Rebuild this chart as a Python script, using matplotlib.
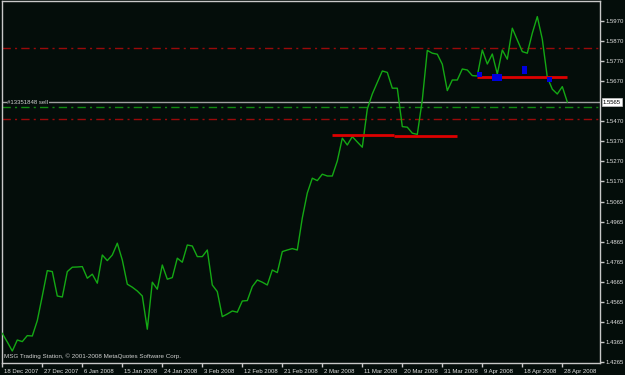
import matplotlib
matplotlib.use("Agg")
import matplotlib.pyplot as plt
import matplotlib.transforms as mtransforms

# ---- data ----
bars = list(range(114))
close = [1.4408, 1.4365, 1.4320, 1.4375, 1.4367, 1.4397, 1.4395, 1.4472, 1.4595, 1.4722,
         1.4717, 1.4595, 1.4590, 1.4717, 1.4739, 1.4740, 1.4742, 1.4684, 1.4704, 1.4659,
         1.4800, 1.4772, 1.4800, 1.4859, 1.4775, 1.4654, 1.4639, 1.4620, 1.4595, 1.4429,
         1.4664, 1.4629, 1.4750, 1.4679, 1.4687, 1.4784, 1.4764, 1.4850, 1.4845, 1.4792,
         1.4792, 1.4825, 1.4650, 1.4617, 1.4492, 1.4505, 1.4520, 1.4514, 1.4570, 1.4572,
         1.4642, 1.4675, 1.4664, 1.4650, 1.4725, 1.4712, 1.4817, 1.4825, 1.4832, 1.4825,
         1.4985, 1.5110, 1.5184, 1.5172, 1.5204, 1.5195, 1.5195, 1.5270, 1.5384, 1.5350,
         1.5392, 1.5365, 1.5339, 1.5530, 1.5605, 1.5663, 1.5720, 1.5713, 1.5634, 1.5634,
         1.5442, 1.5439, 1.5409, 1.5403, 1.5575, 1.5823, 1.5809, 1.5804, 1.5754, 1.5622,
         1.5675, 1.5675, 1.5730, 1.5725, 1.5697, 1.5695, 1.5825, 1.5755, 1.5805, 1.5705,
         1.5825, 1.5779, 1.5934, 1.5875, 1.5817, 1.5809, 1.5909, 1.5992, 1.5879, 1.5689,
         1.5629, 1.5605, 1.5642, 1.5565]

x_tick_bars = [0, 8, 16, 24, 32, 40, 48, 56, 64, 72, 80, 88, 96, 104, 112]
x_tick_labels = ["18 Dec 2007", "27 Dec 2007", "6 Jan 2008", "15 Jan 2008", "24 Jan 2008",
                 "3 Feb 2008", "12 Feb 2008", "21 Feb 2008", "2 Mar 2008", "11 Mar 2008",
                 "20 Mar 2008", "31 Mar 2008", "9 Apr 2008", "18 Apr 2008", "28 Apr 2008"]
y_ticks = [1.5970, 1.5870, 1.5770, 1.5670, 1.5470, 1.5370, 1.5270, 1.5170, 1.5065,
           1.4965, 1.4865, 1.4765, 1.4665, 1.4565, 1.4465, 1.4365, 1.4265]

current_price = 1.5565
order_label = "#13351848 sell"
red_levels = [1.5837, 1.5480]
green_level = 1.5539

# trend segments (bar start, bar end, price)
seg_start = [65.9, 78.4, 95.0]
seg_end = [78.4, 91.0, 113.0]
seg_price = [1.5400, 1.5396, 1.5692]

# blue boxes (bar left, bar right, price low, price high)
box_left = [94.9, 97.9, 103.9, 108.9]
box_right = [95.9, 99.9, 105.0, 109.9]
box_low = [1.5692, 1.5668, 1.5705, 1.5667]
box_high = [1.5717, 1.5705, 1.5745, 1.5692]

plt.rcParams["font.family"] = ["Liberation Sans", "DejaVu Sans"]

# ---- figure ----
W, H = 625, 375
fig = plt.figure(figsize=(W / 100, H / 100), dpi=100)
bg = "#040d0a"
fig.patch.set_facecolor(bg)
ax = fig.add_axes([2 / W, 1 - 363 / H, 598 / W, 362 / H])
ax.set_facecolor(bg)
ax.set_xlim(-0.06, 119.54)
ax.set_ylim(1.4260, 1.6070)

for s in ["left", "top", "right", "bottom"]:
    ax.spines[s].set_color("#c8c8c8")
    ax.spines[s].set_linewidth(1)

# level lines
for lv in red_levels:
    ax.axhline(lv, color="#9a0a0a", lw=1, ls=(0, (6, 3, 1.5, 3)), zorder=1)
ax.axhline(green_level, color="#108a10", lw=1, ls=(0, (6, 3, 1.5, 3)), zorder=1)
ax.axhline(current_price, color="#a0a0a0", lw=1, zorder=1)

# price line
ax.plot(bars, close, color="#14a814", lw=1, zorder=3)

# trend segments
for a, b, p in zip(seg_start, seg_end, seg_price):
    ax.plot([a, b], [p, p], color="#dd0000", lw=2, solid_capstyle="butt", zorder=4)

# blue boxes
for l, r, lo, hi in zip(box_left, box_right, box_low, box_high):
    ax.fill_between([l, r], lo, hi, color="#0000dd", lw=0, zorder=5)

# ticks
ax.set_xticks(x_tick_bars)
ax.set_xticklabels(x_tick_labels, ha="left")
ax.set_yticks(y_ticks)
ax.set_yticklabels([f"{v:.4f}" for v in y_ticks])
ax.yaxis.tick_right()
ax.tick_params(axis="both", colors="#c8c8c8", labelcolor="#e0e0e0", labelsize=4.3,
               length=3, width=1, direction="out")
ax.tick_params(axis="x", pad=1.5)
ax.tick_params(axis="y", pad=1.0)

offset = mtransforms.ScaledTranslation(1.5 / 100, 0, fig.dpi_scale_trans)
for lbl in ax.get_xticklabels():
    lbl.set_transform(lbl.get_transform() + offset)

# current price label box on right
ax.text(1.005, current_price, f"{current_price:.4f}", transform=ax.get_yaxis_transform(),
        ha="left", va="center", fontsize=4.3, color="black",
        bbox=dict(boxstyle="square,pad=0.2", fc="white", ec="#c8c8c8", lw=0.5),
        clip_on=False, zorder=10)

# order label
ax.text(1.0, current_price, order_label, ha="left", va="center", fontsize=4.3,
        color="#d0d0d0", zorder=6,
        bbox=dict(boxstyle="square,pad=0.1", fc=bg, ec="none"))

# copyright text
ax.text(0.004, 0.01, "MSG Trading Station, \u00a9 2001-2008 MetaQuotes Software Corp.",
        transform=ax.transAxes, ha="left", va="bottom", fontsize=4.5, color="#d0d0d0")

fig.savefig("out.png", dpi=100, facecolor=bg)
